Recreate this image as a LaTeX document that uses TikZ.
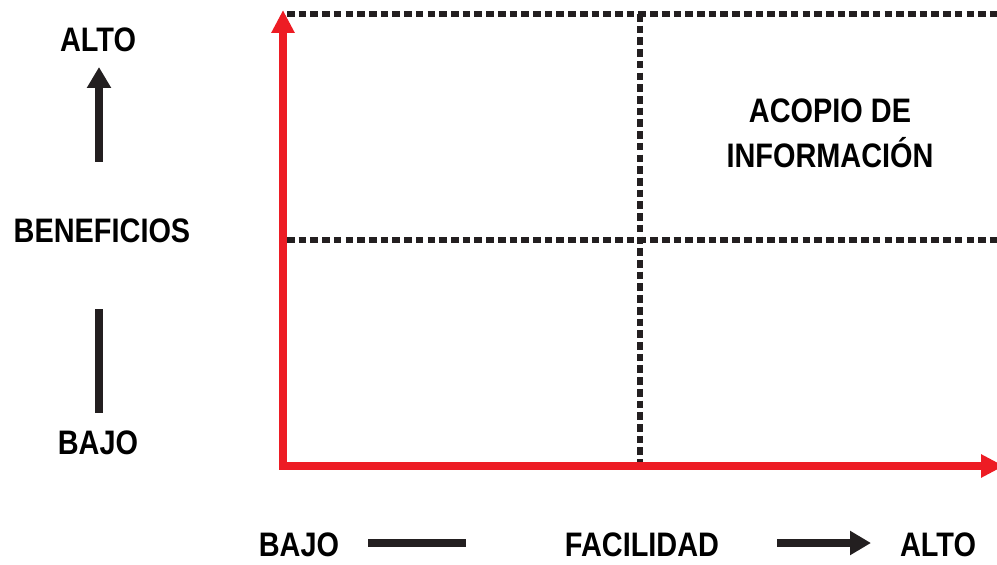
\documentclass[tikz,border=0pt]{standalone}
\usepackage{fontspec}
\setmainfont{Liberation Sans}[FakeStretch=0.85]
\usepackage{xcolor}
\usetikzlibrary{arrows.meta}
\definecolor{axisred}{RGB}{237,28,36}
\definecolor{ink}{RGB}{35,31,32}

\begin{document}
\begin{tikzpicture}[x=0.03cm,y=-0.03cm,
    lbl/.style={font=\fontsize{29}{38.5}\selectfont\bfseries,inner sep=0pt,align=center},
    gridline/.style={ink,line width=4.5pt,dash pattern=on 6.5pt off 3.5pt},
    redaxis/.style={axisred,line width=6.8pt,line join=miter},
    hint/.style={ink,line width=6pt},
    tip/.style={-{Triangle[length=0.63cm,width=0.69cm]}}]
        \useasboundingbox (0,0) rectangle (997,565);
        % cuadrantes
        \draw[gridline] (287,14) -- (1000,14);
        \draw[gridline] (287,240) -- (1000,240);
        \draw[gridline] (640,14) -- (640,462);
        % ejes
        \coordinate (top) at (283,10);
        \coordinate (origin) at (283,466);
        \coordinate (right) at (1004,466);
        \draw[redaxis,{Triangle[length=0.69cm,width=0.66cm]}-{Triangle[length=0.69cm,width=0.66cm]}] (top) -- (origin) -- (right);
        % beneficios
        \node[lbl] (altoB) at (98,40) {ALTO};
        \node[lbl] (benef) at (102,231) {BENEFICIOS};
        \node[lbl] (bajoB) at (98,443) {BAJO};
        \coordinate (upA) at (99,162);
        \coordinate (upB) at (99,67);
        \coordinate (dnA) at (99,309);
        \coordinate (dnB) at (99,413);
        \draw[hint,tip] (upA) -- (upB);
        \draw[hint] (dnA) -- (dnB);
        % facilidad
        \node[lbl] (bajoF) at (299,545) {BAJO};
        \node[lbl] (facil) at (642,545) {FACILIDAD};
        \node[lbl] (altoF) at (938,545) {ALTO};
        \coordinate (ltA) at (368,543);
        \coordinate (ltB) at (466,543);
        \coordinate (rtA) at (777,543);
        \coordinate (rtB) at (871,543);
        \draw[hint] (ltA) -- (ltB);
        \draw[hint,tip] (rtA) -- (rtB);
        % cuadrante
        \node[lbl] (acopio) at (830,133) {ACOPIO DE\\INFORMACIÓN};
\end{tikzpicture}
\end{document}
